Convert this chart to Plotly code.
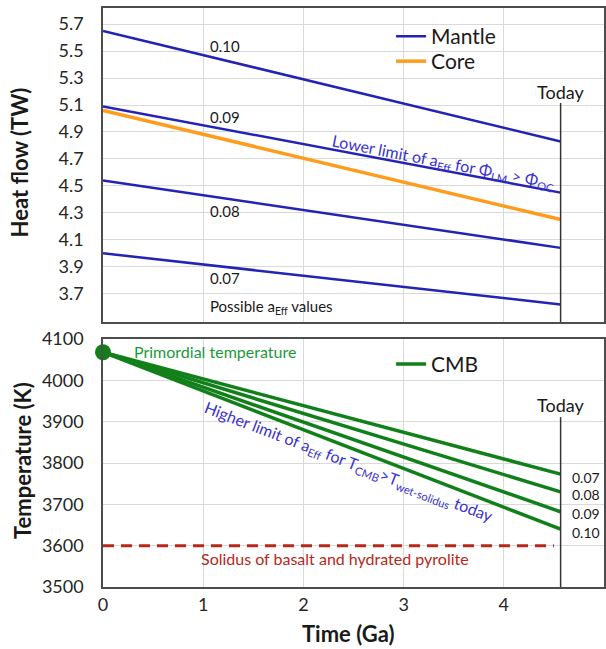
import plotly.graph_objects as go

# ---------------- data ----------------
ages = [0.0, 4.567]            # Ga, start and today
TODAY = 4.567
a_eff_labels = ["0.10", "0.09", "0.08", "0.07"]
mantle_010 = [5.65, 4.83]
mantle_009 = [5.09, 4.45]
mantle_008 = [4.54, 4.04]
mantle_007 = [4.00, 3.62]
core_flow = [5.06, 4.25]

T_primordial = 4068
cmb_007 = [4068, 3773]
cmb_008 = [4068, 3730]
cmb_009 = [4068, 3682]
cmb_010 = [4068, 3640]
SOLIDUS = 3600
solidus_x = [0.0, 4.5]

heat_ticks = [3.7, 3.9, 4.1, 4.3, 4.5, 4.7, 4.9, 5.1, 5.3, 5.5, 5.7]
temp_ticks = [3500, 3600, 3700, 3800, 3900, 4000, 4100]
time_ticks = [0, 1, 2, 3, 4, 5]

# ---------------- styles ----------------
FONT = "Lato"
BLUE = "#2323b5"
ORANGE = "#ff9c1e"
GREEN = "#12801a"
LGREEN = "#1a9a3a"
ANNBLUE = "#3a32d0"
RED = "#b5281a"
FRAME = "#4d4d4d"
GRID = "#d9d9d9"

fig = go.Figure()

mantle_sets = [mantle_010, mantle_009, mantle_008, mantle_007]
for i, m in enumerate(mantle_sets):
    fig.add_trace(go.Scatter(x=ages, y=m, mode="lines", name="Mantle",
                             line=dict(color=BLUE, width=2.5),
                             legendgroup="mantle", showlegend=(i == 0),
                             legend="legend", xaxis="x", yaxis="y"))
fig.add_trace(go.Scatter(x=ages, y=core_flow, mode="lines", name="Core",
                         line=dict(color=ORANGE, width=3.5),
                         legend="legend3", xaxis="x", yaxis="y"))

cmb_sets = [cmb_007, cmb_008, cmb_009, cmb_010]
for i, c in enumerate(cmb_sets):
    fig.add_trace(go.Scatter(x=ages, y=c, mode="lines", name="CMB",
                             line=dict(color=GREEN, width=3.5),
                             legendgroup="cmb", showlegend=(i == 0),
                             legend="legend2", xaxis="x2", yaxis="y2"))
fig.add_trace(go.Scatter(x=[ages[0]], y=[T_primordial], mode="markers",
                         marker=dict(color=GREEN, size=16), cliponaxis=False,
                         showlegend=False, xaxis="x2", yaxis="y2"))
fig.add_trace(go.Scatter(x=solidus_x, y=[SOLIDUS, SOLIDUS], mode="lines",
                         line=dict(color=RED, width=3, dash="11px,7px"),
                         showlegend=False, xaxis="x2", yaxis="y2"))

# Today lines
fig.add_shape(type="line", xref="x", yref="y", x0=TODAY, x1=TODAY, y0=3.49, y1=5.115,
              line=dict(color="#333333", width=1.5))
fig.add_shape(type="line", xref="x2", yref="y2", x0=TODAY, x1=TODAY, y0=3500, y1=3911,
              line=dict(color="#333333", width=1.5))

ann = []
def A(text, x, y, xref, yref, size=15, color="#1a1a1a", xanchor="center", angle=0, **kw):
    ann.append(dict(text=text, x=x, y=y, xref=xref, yref=yref, showarrow=False,
                    font=dict(family=FONT, size=size, color=color),
                    xanchor=xanchor, yanchor="middle", textangle=angle, **kw))

# top panel labels
A(a_eff_labels[0], 1.05, 5.54, "x", "y", xanchor="left")
A(a_eff_labels[1], 1.05, 5.01, "x", "y", xanchor="left")
A(a_eff_labels[2], 1.05, 4.31, "x", "y", xanchor="left")
A(a_eff_labels[3], 1.05, 3.82, "x", "y", xanchor="left")
A("Possible a<sub>Eff</sub> values", 1.05, 3.60, "x", "y", size=15, xanchor="left")
A("Today", TODAY, 5.196, "x", "y", size=18)
A("Lower limit of a<sub>Eff</sub> for Φ<sub>LM</sub> > Φ<sub>OC</sub>", 3.40, 4.67, "x", "y",
  size=16, color=ANNBLUE, angle=11)

# bottom panel labels
A("Primordial temperature", 0.29, 4069, "x2", "y2", size=16, color=LGREEN, xanchor="left")
A("Today", TODAY, 3940, "x2", "y2", size=18)
A("Higher limit of a<sub>Eff</sub> for T<sub>CMB</sub>>T<sub>wet-solidus</sub> today", 2.46, 3802,
  "x2", "y2", size=16, color=ANNBLUE, angle=21)
for lab, yv in zip(["0.07", "0.08", "0.09", "0.10"], [3766, 3724, 3678, 3633]):
    A(lab, 4.66, yv, "x2", "y2", size=14, xanchor="left")
A("Solidus of basalt and hydrated pyrolite", 2.32, 3570, "x2", "y2", size=16, color=RED)

# axis titles
A("<b>Heat flow (TW)</b>", -0.166, 0.733, "paper", "paper", size=22, angle=-90)
A("<b>Temperature (K)</b>", -0.162, 0.219, "paper", "paper", size=22, angle=-90)
A("<b>Time (Ga)</b>", 0.49, -0.081, "paper", "paper", size=22)

axis_common = dict(showline=True, mirror=True, linecolor=FRAME, linewidth=1.5,
                   showgrid=True, gridcolor=GRID, gridwidth=1, zeroline=False,
                   automargin=False,
                   ticks="", tickfont=dict(family=FONT, size=18, color="#262626"))

leg_common = dict(xanchor="left", yanchor="top", bgcolor="rgba(0,0,0,0)",
                  font=dict(family=FONT, size=21, color="#1a1a1a"))

fig.update_layout(
    width=606, height=649,
    margin=dict(l=103, r=2, t=8, b=62),
    paper_bgcolor="white", plot_bgcolor="white",
    font=dict(family=FONT, color="#1a1a1a"),
    xaxis=dict(domain=[0, 1], anchor="y", range=[0, 5], tickvals=time_ticks,
               showticklabels=False, **axis_common),
    yaxis=dict(domain=[0.4577, 1], anchor="x", range=[3.49, 5.82], tickvals=heat_ticks,
               ticktext=[f"{v:.1f}" for v in heat_ticks], ticklabelstandoff=14, **axis_common),
    xaxis2=dict(domain=[0, 1], anchor="y2", range=[0, 5], tickvals=time_ticks,
                ticklabelstandoff=1, **axis_common),
    yaxis2=dict(domain=[0, 0.4283], anchor="x2", range=[3500, 4100], tickvals=temp_ticks,
                ticklabelstandoff=14, **axis_common),
    legend=dict(x=0.575, y=0.986, **leg_common),
    legend3=dict(x=0.575, y=0.943, **leg_common),
    legend2=dict(x=0.575, y=0.42, **leg_common),
    annotations=ann,
)

fig.write_html("out.html", config={"displayModeBar": False},
               post_script="document.body.style.margin='0';")
